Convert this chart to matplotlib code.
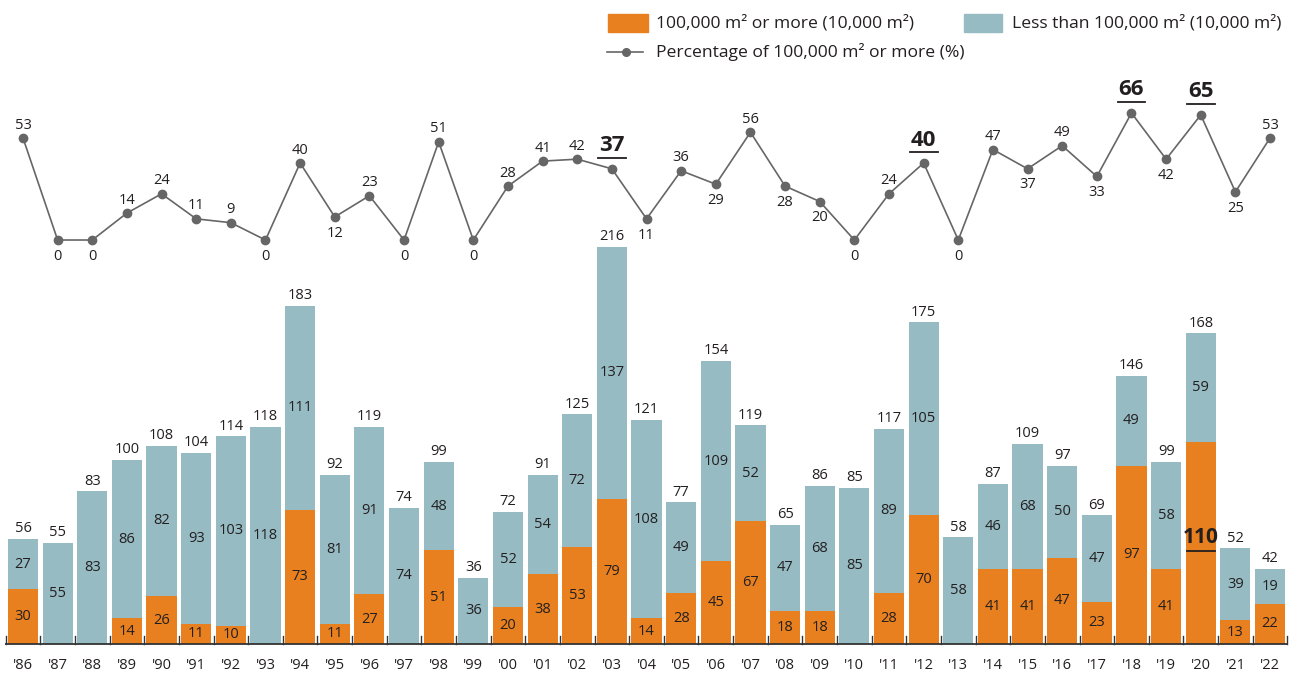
import numpy as np
import matplotlib.pyplot as plt
from matplotlib.patches import Rectangle
from matplotlib.lines import Line2D

plt.rcParams['font.family'] = ['Open Sans', 'DejaVu Sans']

# --- Data ---
years = ["'86", "'87", "'88", "'89", "'90", "'91", "'92", "'93", "'94", "'95",
         "'96", "'97", "'98", "'99", "'00", "'01", "'02", "'03", "'04", "'05",
         "'06", "'07", "'08", "'09", "'10", "'11", "'12", "'13", "'14", "'15",
         "'16", "'17", "'18", "'19", "'20", "'21", "'22"]
large = [30, 0, 0, 14, 26, 11, 10, 0, 73, 11, 27, 0, 51, 0, 20, 38, 53, 79, 14, 28,
         45, 67, 18, 18, 0, 28, 70, 0, 41, 41, 47, 23, 97, 41, 110, 13, 22]
small = [27, 55, 83, 86, 82, 93, 103, 118, 111, 81, 91, 74, 48, 36, 52, 54, 72, 137, 108, 49,
         109, 52, 47, 68, 85, 89, 105, 58, 46, 68, 50, 47, 49, 58, 59, 39, 19]
totals = [56, 55, 83, 100, 108, 104, 114, 118, 183, 92, 119, 74, 99, 36, 72, 91, 125, 216, 121, 77,
          154, 119, 65, 86, 85, 117, 175, 58, 87, 109, 97, 69, 146, 99, 168, 52, 42]
pct = [53, 0, 0, 14, 24, 11, 9, 0, 40, 12, 23, 0, 51, 0, 28, 41, 42, 37, 11, 36,
       29, 56, 28, 20, 0, 24, 40, 0, 47, 37, 49, 33, 66, 42, 65, 25, 53]
# label side for the percentage line: 1 above, -1 below
pct_side = [1, -1, -1, 1, 1, 1, 1, -1, 1, -1, 1, -1, 1, -1, 1, 1, 1, 1, -1, 1,
            -1, 1, -1, -1, -1, 1, 1, -1, 1, -1, 1, -1, 1, -1, 1, -1, 1]
pct_bold = ["'03", "'12", "'18", "'20"]

ORANGE = '#E8801F'
TEAL = '#96BBC3'
LINE = '#666666'
TXT = '#231f20'
FS = 10.5
LEG_FS = 12.6

x = np.arange(len(years))
large = np.array(large)
small = np.array(small)

fig = plt.figure(figsize=(12.9, 6.75), dpi=100)
xlim = (-0.664, 36.576)

# --- Stacked bars ---
ax = fig.add_axes([0, 0, 1, 1])
ax.set_xlim(*xlim)
ax.set_ylim(-16.87, 350.4)
ax.axis('off')
w = 0.87
ax.bar(x, large, width=w, color=ORANGE, zorder=2)
ax.bar(x, small, width=w, bottom=large, color=TEAL, zorder=2)
ax.plot([-0.52, 36.52], [0, 0], color='#333333', lw=1.3, zorder=3, solid_capstyle='butt')
for b in np.arange(-0.5, len(years)):
    ax.plot([b, b], [0, 4.5], color='#333333', lw=1, zorder=3)

for i in range(len(years)):
    if large[i] > 0:
        if years[i] == "'20":
            ax.text(x[i], large[i] / 2 + 3, str(large[i]), ha='center', va='center',
                    fontsize=15, fontweight='bold', color=TXT, zorder=4)
            ax.plot([x[i] - 0.4, x[i] + 0.4], [large[i] / 2 - 4.2, large[i] / 2 - 4.2],
                    color=TXT, lw=1.3, zorder=4)
        else:
            ax.text(x[i], large[i] / 2, str(large[i]), ha='center', va='center',
                    fontsize=FS, color=TXT, zorder=4)
    if small[i] > 0:
        ax.text(x[i], large[i] + small[i] / 2, str(small[i]), ha='center', va='center',
                fontsize=FS, color=TXT, zorder=4)
    ax.text(x[i], large[i] + small[i] + 1.5, str(totals[i]), ha='center', va='bottom',
            fontsize=FS, color=TXT, zorder=4)
    ax.text(x[i], -11.5, years[i], ha='center', va='center', fontsize=FS, color=TXT)

# --- Percentage line ---
ax2 = fig.add_axes([0, 0, 1, 1])
ax2.patch.set_alpha(0)
ax2.set_xlim(*xlim)
ax2.set_ylim(-226, 124.7)
ax2.axis('off')
ax2.plot(x, pct, color=LINE, lw=1.2, marker='o', ms=6, zorder=3)
for i in range(len(years)):
    if years[i] in pct_bold:
        ax2.text(x[i], pct[i] + 6.5, str(pct[i]), ha='center', va='bottom',
                 fontsize=16, fontweight='bold', color=TXT)
        ax2.plot([x[i] - 0.4, x[i] + 0.4], [pct[i] + 5.6, pct[i] + 5.6], color=TXT, lw=1.3)
    elif pct_side[i] > 0:
        ax2.text(x[i], pct[i] + 2.8, str(pct[i]), ha='center', va='bottom',
                 fontsize=FS, color=TXT)
    else:
        ax2.text(x[i], pct[i] - 4.5, str(pct[i]), ha='center', va='top',
                 fontsize=FS, color=TXT)

# --- Legend ---
fig.patches.append(Rectangle((608 / 1290, 1 - 32 / 675), 40 / 1290, 18 / 675,
                             transform=fig.transFigure, color=ORANGE))
fig.patches.append(Rectangle((964 / 1290, 1 - 32 / 675), 38 / 1290, 18 / 675,
                             transform=fig.transFigure, color=TEAL))
fig.lines.append(Line2D([607 / 1290, 643 / 1290], [1 - 52 / 675, 1 - 52 / 675],
                        transform=fig.transFigure, color=LINE, lw=1.2))
fig.lines.append(Line2D([626 / 1290], [1 - 52 / 675], transform=fig.transFigure,
                        color=LINE, marker='o', ms=5.5, lw=0))
fig.text(656 / 1290, 1 - 23 / 675, '100,000 m² or more (10,000 m²)', ha='left', va='center',
         fontsize=LEG_FS, color=TXT)
fig.text(1012 / 1290, 1 - 23 / 675, 'Less than 100,000 m² (10,000 m²)', ha='left', va='center',
         fontsize=LEG_FS, color=TXT)
fig.text(656 / 1290, 1 - 52 / 675, 'Percentage of 100,000 m² or more (%)', ha='left', va='center',
         fontsize=LEG_FS, color=TXT)

fig.savefig('out.png', dpi=100)
